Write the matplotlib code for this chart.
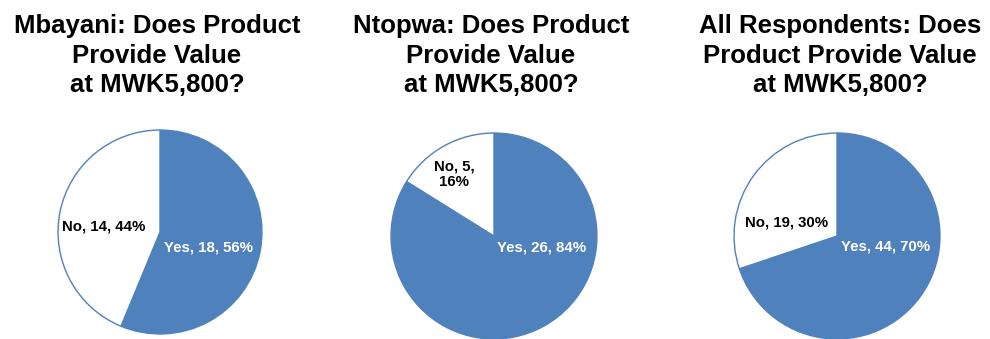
import matplotlib
matplotlib.use('Agg')
import matplotlib.pyplot as plt

plt.rcParams['font.family'] = ['Liberation Sans', 'DejaVu Sans']

titles = ['Mbayani: Does Product\nProvide Value\nat MWK5,800?',
          'Ntopwa: Does Product\nProvide Value\nat MWK5,800?',
          'All Respondents: Does\nProduct Provide Value\nat MWK5,800?']
categories = ['Yes', 'No']
yes_counts = [18, 26, 44]
no_counts = [14, 5, 19]

blue = '#4F81BD'

# layout in pixels (figure is 990x339)
W, H = 990, 339
centers = [(160, 232), (494, 236), (837, 236)]
radii = [103, 104, 104]
title_x = [157, 491, 840]
# label anchors, in units of the pie radius
yes_pos = [(0.48, -0.155), (0.46, -0.115), (0.47, -0.105)]
no_pos = [(-0.55, 0.05), (-0.39, 0.60), (-0.49, 0.135)]

fig = plt.figure(figsize=(W / 100, H / 100), dpi=100)

for i in range(3):
    cx, cy = centers[i]
    r = radii[i]
    ax = fig.add_axes([(cx - r) / W, (H - cy - r) / H, 2 * r / W, 2 * r / H])
    vals = [yes_counts[i], no_counts[i]]
    total = sum(vals)
    wedges, _ = ax.pie(vals, colors=[blue, 'white'], startangle=90,
                       counterclock=False, radius=1,
                       wedgeprops=dict(edgecolor=blue, linewidth=1))
    ax.set_xlim(-1.01, 1.01)
    ax.set_ylim(-1.01, 1.01)
    ax.set_aspect('equal')
    ax.axis('off')

    yes_txt = '%s, %d, %d%%' % (categories[0], vals[0], round(100 * vals[0] / total))
    no_txt = '%s, %d, %d%%' % (categories[1], vals[1], round(100 * vals[1] / total))
    if i == 1:
        no_txt = '%s, %d,\n%d%%' % (categories[1], vals[1], round(100 * vals[1] / total))
    ax.text(yes_pos[i][0], yes_pos[i][1], yes_txt, color='white', fontsize=10.8,
            fontweight='bold', ha='center', va='center')
    ax.text(no_pos[i][0], no_pos[i][1], no_txt, color='black', fontsize=10.8,
            fontweight='bold', ha='center', va='center', linespacing=1.1)

    fig.text(title_x[i] / W, 1 - 14 / H, titles[i], ha='center', va='top',
             fontsize=18.5, fontweight='bold', linespacing=1.3)

fig.savefig('out.png', dpi=100)
